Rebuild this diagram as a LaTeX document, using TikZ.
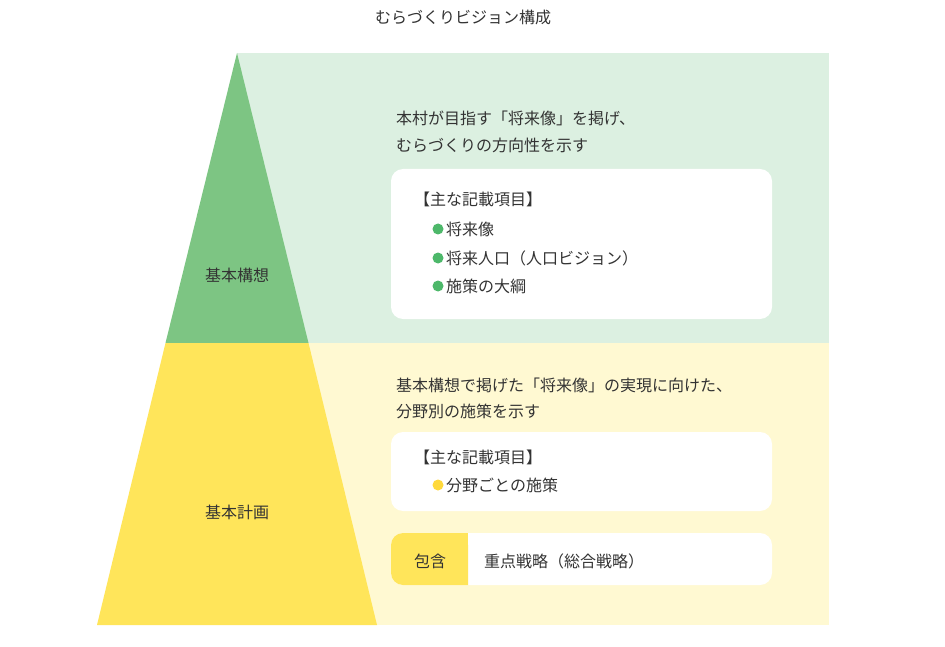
\documentclass[tikz,border=0pt]{standalone}
\usepackage{fontspec}
\setmainfont{Noto Sans CJK JP}
\definecolor{gpanel}{HTML}{DCF0E1}
\definecolor{ypanel}{HTML}{FFF9D2}
\definecolor{gtri}{HTML}{7DC583}
\definecolor{ytri}{HTML}{FFE55A}
\definecolor{txt}{HTML}{333333}
\definecolor{gdot}{HTML}{4DB86A}
\definecolor{ydot}{HTML}{FFD93A}
\tikzset{
 t/.style={anchor=west,inner sep=0pt,text=txt,font=\fontsize{16}{20}\selectfont},
 c/.style={inner sep=0pt,text=txt,font=\fontsize{16}{20}\selectfont},
 wbox/.style={fill=white,rounded corners=12pt},
}
\begin{document}
\begin{tikzpicture}[x=1pt,y=-1pt]
\fill[white] (0,0) rectangle (945,647);
\useasboundingbox (0,0) rectangle (945,647);
\fill[gpanel] (237,53) rectangle (829,343);
\fill[ypanel] (237,343) rectangle (829,625);
\fill[gtri] (237,53) -- (308.5,343) -- (165.5,343) -- cycle;
\fill[ytri] (165.5,343) -- (308.5,343) -- (377,625) -- (97,625) -- cycle;
\node[c] (title) at (463,17) {むらづくりビジョン構成};
\node[c] (kk) at (237,275) {基本構想};
\node[c] (kp) at (237,512) {基本計画};
\node[t] (g1) at (396,118) {本村が目指す「将来像」を掲げ、};
\node[t] (g2) at (396,145) {むらづくりの方向性を示す};
\fill[wbox] (391,169) rectangle (772,319);
\node[t] (gh) at (414,199) {【主な記載項目】};
\foreach \y/\s [count=\i] in {229/将来像,258/将来人口（人口ビジョン）,286/施策の大綱}{
 \fill[gdot] (438,\y) circle (5.5);
 \node[t] (gi\i) at (446,\y) {\s};
}
\node[t] (y1) at (396,385) {基本構想で掲げた「将来像」の実現に向けた、};
\node[t] (y2) at (396,411) {分野別の施策を示す};
\fill[wbox] (391,432) rectangle (772,511);
\node[t] (yh) at (414,457) {【主な記載項目】};
\fill[ydot] (438,485) circle (5.5);
\node[t] (yi) at (446,485) {分野ごとの施策};
\fill[wbox] (391,533) rectangle (772,585);
\fill[ytri,rounded corners=12pt] (391,533) -- (430,533) -- (468,533) [sharp corners]-- (468,585) [rounded corners=12pt]-- (391,585) -- cycle;
\fill[ytri] (440,533) rectangle (468,585);
\node[c] (hg) at (430,561) {包含};
\node[t] (jt) at (484,561) {重点戦略（総合戦略）};
\end{tikzpicture}
\end{document}
